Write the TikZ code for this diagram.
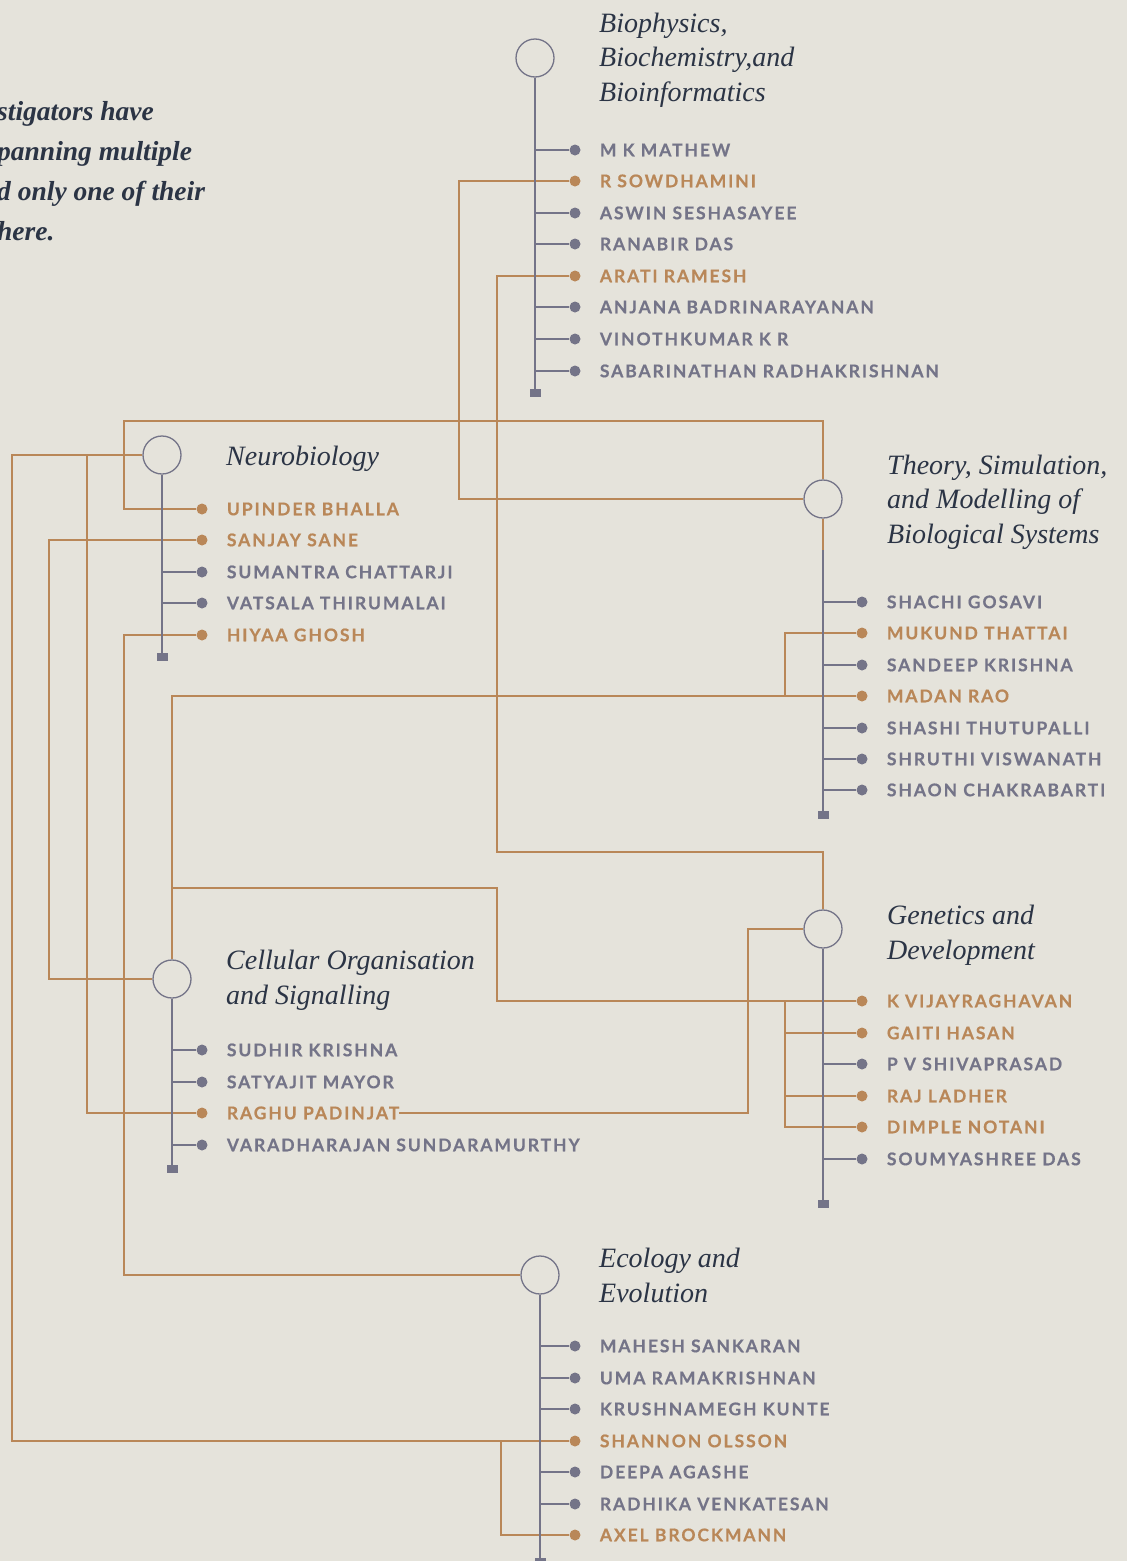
\documentclass[tikz,border=0pt]{standalone}
\usepackage{fontspec}
\setmainfont{Liberation Serif}
\newfontfamily\namefont{Lato}[LetterSpace=11, BoldFeatures={FakeBold=0.4}]
\usepackage{tikz}
\usetikzlibrary{positioning}
\definecolor{paper}{HTML}{E5E3DB}
\definecolor{slate}{HTML}{747488}
\definecolor{ochre}{HTML}{B98758}
\definecolor{ink}{HTML}{2B3445}
\tikzstyle{hub} = [circle, 
draw=slate, 
line width=1.3pt, 
minimum size=38pt, 
inner sep=0pt, 
fill=paper]
\tikzstyle{trunk} = [draw=slate, line width=1.3pt]
\tikzstyle{link} = [draw=ochre, line width=1.3pt]
\tikzstyle{endcap} = [rectangle, fill=slate, 
minimum width=11pt, 
minimum height=8pt, inner sep=0pt]
\tikzstyle{dot} = [circle, minimum size=11pt, inner sep=0pt]
\tikzstyle{pname} = [font=\namefont\bfseries\fontsize{17.5}{20}\selectfont, 
inner sep=0pt, 
text height=12.5pt, 
text depth=0pt]
\tikzstyle{heading} = [font=\itshape\fontsize{28}{34.5}\selectfont, 
text=ink, 
align=left, 
inner sep=0pt, 
anchor=base west]

\begin{document}
\begin{tikzpicture}[x=1pt, y=-1pt]
\useasboundingbox (0,0) rectangle (1127,1561);
\clip (0,0) rectangle (1127,1561);
\fill [paper] (0,0) rectangle (1127,1561);

% note at the top left (base is the last line)
\node (note) [font=\bfseries\itshape\fontsize{27.5}{40}\selectfont, text=ink, align=left, inner sep=0pt, anchor=base west] at (-3,240) {stigators have\\panning multiple\\d only one of their\\here.};

% research areas
\node (bio) [hub] at (535,58) {};
\node (neuro) [hub] at (162,455) {};
\node (theory) [hub] at (823,499) {};
\node (cellular) [hub] at (172,979) {};
\node (genetics) [hub] at (823,929) {};
\node (ecology) [hub] at (540,1275) {};

\node (bioh) [heading] at (599,101) {Biophysics,\\Biochemistry,and\\Bioinformatics};
\node (neuroh) [heading] at (226,465) {Neurobiology};
\node (theoryh) [heading] at (887,543) {Theory, Simulation,\\and Modelling of\\Biological Systems};
\node (cellularh) [heading] at (226,1004) {Cellular Organisation\\and Signalling};
\node (geneticsh) [heading] at (887,959) {Genetics and\\Development};
\node (ecologyh) [heading] at (599,1302) {Ecology and\\Evolution};

\node (bioend) [endcap] at (535,393) {};
\node (neuroend) [endcap] at (162,657) {};
\node (theoryend) [endcap] at (823,815) {};
\node (cellularend) [endcap] at (172,1169) {};
\node (geneticsend) [endcap] at (823,1204) {};
\node (ecologyend) [endcap] at (540,1562) {};

% people
\foreach \id/\yy/\col/\lbl in {mathew/150/slate/M K MATHEW, sowdhamini/181/ochre/R SOWDHAMINI, seshasayee/213/slate/ASWIN SESHASAYEE, ranabir/244/slate/RANABIR DAS, arati/276/ochre/ARATI RAMESH, anjana/307/slate/ANJANA BADRINARAYANAN, vinoth/339/slate/VINOTHKUMAR K R, sabari/371/slate/SABARINATHAN RADHAKRISHNAN}{
  \node (\id) [dot, fill=\col] at (575,\yy) {};
  \node (\id-t) [pname, text=\col, right=19pt of \id] {\lbl};
  \draw [trunk] (bio |- \id) -- (\id);
}
\foreach \id/\yy/\col/\lbl in {upinder/509/ochre/UPINDER BHALLA, sanjay/540/ochre/SANJAY SANE, sumantra/572/slate/SUMANTRA CHATTARJI, vatsala/603/slate/VATSALA THIRUMALAI, hiyaa/635/ochre/HIYAA GHOSH}{
  \node (\id) [dot, fill=\col] at (202,\yy) {};
  \node (\id-t) [pname, text=\col, right=19pt of \id] {\lbl};
  \draw [trunk] (neuro |- \id) -- (\id);
}
\foreach \id/\yy/\col/\lbl in {shachi/602/slate/SHACHI GOSAVI, mukund/633/ochre/MUKUND THATTAI, sandeep/665/slate/SANDEEP KRISHNA, madan/696/ochre/MADAN RAO, shashi/728/slate/SHASHI THUTUPALLI, shruthi/759/slate/SHRUTHI VISWANATH, shaon/790/slate/SHAON CHAKRABARTI}{
  \node (\id) [dot, fill=\col] at (862,\yy) {};
  \node (\id-t) [pname, text=\col, right=19pt of \id] {\lbl};
  \draw [trunk] (theory |- \id) -- (\id);
}
\foreach \id/\yy/\col/\lbl in {sudhir/1050/slate/SUDHIR KRISHNA, satyajit/1082/slate/SATYAJIT MAYOR, raghu/1113/ochre/RAGHU PADINJAT, varadharajan/1145/slate/VARADHARAJAN SUNDARAMURTHY}{
  \node (\id) [dot, fill=\col] at (202,\yy) {};
  \node (\id-t) [pname, text=\col, right=19pt of \id] {\lbl};
  \draw [trunk] (cellular |- \id) -- (\id);
}
\foreach \id/\yy/\col/\lbl in {vijay/1001/ochre/K VIJAYRAGHAVAN, gaiti/1033/ochre/GAITI HASAN, shivaprasad/1064/slate/P V SHIVAPRASAD, raj/1096/ochre/RAJ LADHER, dimple/1127/ochre/DIMPLE NOTANI, soumya/1159/slate/SOUMYASHREE DAS}{
  \node (\id) [dot, fill=\col] at (862,\yy) {};
  \node (\id-t) [pname, text=\col, right=19pt of \id] {\lbl};
  \draw [trunk] (genetics |- \id) -- (\id);
}
\foreach \id/\yy/\col/\lbl in {mahesh/1346/slate/MAHESH SANKARAN, uma/1378/slate/UMA RAMAKRISHNAN, krushna/1409/slate/KRUSHNAMEGH KUNTE, shannon/1441/ochre/SHANNON OLSSON, deepa/1472/slate/DEEPA AGASHE, radhika/1504/slate/RADHIKA VENKATESAN, axel/1535/ochre/AXEL BROCKMANN}{
  \node (\id) [dot, fill=\col] at (575,\yy) {};
  \node (\id-t) [pname, text=\col, right=19pt of \id] {\lbl};
  \draw [trunk] (ecology |- \id) -- (\id);
}

% links between areas
\draw [link] (sowdhamini) -| (459,499) -- (theory);
\draw [link] (arati) -| (497,852) -| (genetics);
\draw [link] (upinder) -| (124,421) -| (theory);
\draw [link] (theory) -- (823,550);
\draw [link] (neuro) -| (12,1441) -- (shannon);
\draw [link] (axel) -| (501,1441);
\draw [link] (neuro) -| (87,1113) -- (raghu);
\draw [link] (sanjay) -| (49,979) -- (cellular);
\draw [link] (hiyaa) -| (124,1275) -- (ecology);
\draw [link] (madan) -| (cellular);
\draw [link] (mukund) -| (785,696);
\draw [link] (vijay) -| (497,888) -- (172,888);
\draw [link] (dimple) -| (785,1001);
\draw [link] (gaiti) -- (785,1033);
\draw [link] (raj) -- (785,1096);
\draw [link] (raghu-t.east) -| (748,929) -- (genetics);

% trunks
\draw [trunk] (bio) -- (bioend);
\draw [trunk] (neuro) -- (neuroend);
\draw [trunk] (823,550) -- (theoryend);
\draw [trunk] (cellular) -- (cellularend);
\draw [trunk] (genetics) -- (geneticsend);
\draw [trunk] (ecology) -- (ecologyend);
\end{tikzpicture}
\end{document}
